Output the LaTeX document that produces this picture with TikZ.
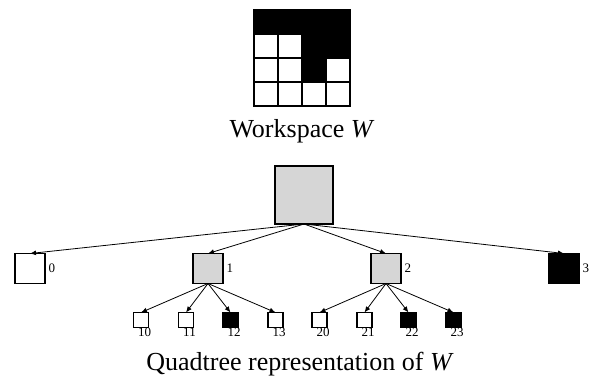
\documentclass[tikz,border=0pt]{standalone}
\usepackage{fontspec}
\setmainfont{Liberation Serif}
\usetikzlibrary{arrows.meta,positioning}
\begin{document}
\begin{tikzpicture}[x=1pt,y=-1pt,
  cell/.style={draw=black,line width=1.3pt},
  qbox/.style={draw=black,line width=1.1pt,minimum size=#1,inner sep=0pt,outer sep=0pt},
  gray/.style={fill=black!16},
  solid black/.style={fill=black},
  white/.style={fill=white},
  edge/.style={line width=0.8pt,-{Latex[length=6pt,width=5pt]}},
  lab/.style={font=\fontsize{13}{14}\selectfont,inner sep=0.5pt},
  caption/.style={font=\fontsize{26}{30}\selectfont,inner sep=0pt,anchor=base}]
\useasboundingbox (0,0) rectangle (593,375);

% workspace grid, 4x4 cells of 24
\fill (254,10) rectangle (350,34);
\fill (302,34) rectangle (350,58);
\fill (302,58) rectangle (326,82);
\foreach \k in {1,2,3} {
  \draw[cell] (254+24*\k,10) -- (254+24*\k,106);
  \draw[cell] (254,10+24*\k) -- (350,10+24*\k);
}
\draw[cell,line width=1.6pt] (254,10) rectangle (350,106);
\node[caption] (wcap) at (302,137) {Workspace \textit{W}};

% quadtree nodes
\node[qbox=58pt,gray] (r) at (304,195) {};
\node[qbox=30pt,white] (n0) at (30,268.5) {};
\node[qbox=30pt,gray] (n1) at (208,268.5) {};
\node[qbox=30pt,gray] (n2) at (386,268.5) {};
\node[qbox=30pt,solid black] (n3) at (564,268.5) {};

\node[qbox=15pt,white] (n10) at (141,320) {};
\node[qbox=15pt,white] (n11) at (186,320) {};
\node[qbox=15pt,solid black] (n12) at (230.5,320) {};
\node[qbox=15pt,white] (n13) at (275.5,320) {};
\node[qbox=15pt,white] (n20) at (319.5,320) {};
\node[qbox=15pt,white] (n21) at (364.5,320) {};
\node[qbox=15pt,solid black] (n22) at (408.5,320) {};
\node[qbox=15pt,solid black] (n23) at (453.5,320) {};

% labels
\foreach \n in {0,1,2,3}
  \node[lab,anchor=west] (l\n) at ([xshift=3pt]n\n.east) {\n};
\foreach \n in {10,11,12,13,20,21,22,23}
  \node[lab,anchor=north] (l\n) at ([xshift=3.5pt,yshift=0.5pt]n\n.south) {\n};

% edges
\foreach \c in {0,1,2,3}
  \draw[edge] (r.south) -- (n\c.north);
\foreach \c in {10,11,12,13}
  \draw[edge] (n1.south) -- (n\c.north);
\foreach \c in {20,21,22,23}
  \draw[edge] (n2.south) -- (n\c.north);

\node[caption] (qcap) at (300,370) {Quadtree representation of \textit{W}};
\end{tikzpicture}
\end{document}
